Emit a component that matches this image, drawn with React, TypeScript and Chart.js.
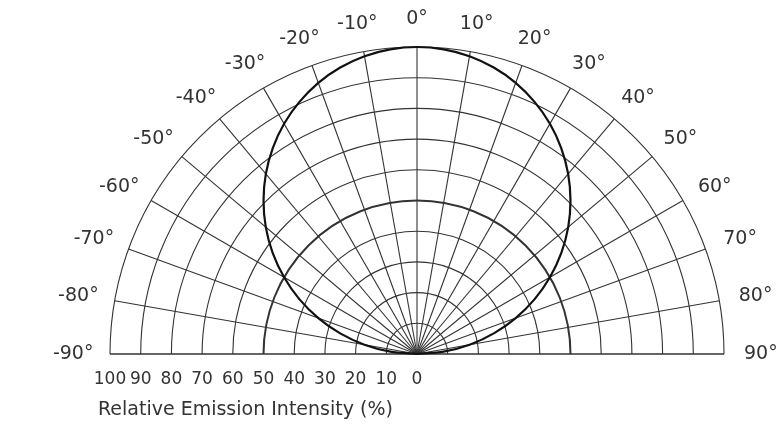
import React, { useEffect, useRef } from "react";
import { Chart, registerables } from "chart.js";

Chart.register(...registerables);

// Emission pattern: angle (deg) vs relative intensity (%)
const angles = [
  -90, -85, -80, -75, -70, -65, -60, -55, -50, -45, -40, -35, -30, -25, -20, -15, -10, -5, 0,
  5, 10, 15, 20, 25, 30, 35, 40, 45, 50, 55, 60, 65, 70, 75, 80, 85, 90,
];
const intensity = [
  0, 8.7, 17.4, 25.9, 34.2, 42.3, 50, 57.4, 64.3, 70.7, 76.6, 81.9, 86.6, 90.6, 94, 96.6, 98.5, 99.6, 100,
  99.6, 98.5, 96.6, 94, 90.6, 86.6, 81.9, 76.6, 70.7, 64.3, 57.4, 50, 42.3, 34.2, 25.9, 17.4, 8.7, 0,
];

// Polar grid
const rings = [10, 20, 30, 40, 50, 60, 70, 80, 90, 100];
const spokes = [-80, -70, -60, -50, -40, -30, -20, -10, 0, 10, 20, 30, 40, 50, 60, 70, 80];
const angleLabels = [-90, -80, -70, -60, -50, -40, -30, -20, -10, 0, 10, 20, 30, 40, 50, 60, 70, 80, 90];
const radialTicks = [100, 90, 80, 70, 60, 50, 40, 30, 20, 10, 0];
const axisTitle = "Relative Emission Intensity (%)";

const FONT = '"DejaVu Sans", sans-serif';
const INK = "#333";

const polarGrid = {
  id: "polarGrid",
  beforeDatasetsDraw(chart: any) {
    const { ctx, scales } = chart;
    const xs = scales.x;
    const ys = scales.y;
    const cx = xs.getPixelForValue(0);
    const cy = ys.getPixelForValue(0);
    const pr = (r: number) => xs.getPixelForValue(r) - cx;
    const rad = (d: number) => (d * Math.PI) / 180;
    ctx.save();
    ctx.strokeStyle = INK;
    rings.forEach((r) => {
      ctx.beginPath();
      ctx.lineWidth = r === 50 ? 2 : 1.1;
      ctx.arc(cx, cy, pr(r), Math.PI, 2 * Math.PI);
      ctx.stroke();
    });
    ctx.lineWidth = 1.1;
    spokes.forEach((a) => {
      const R = pr(100);
      ctx.beginPath();
      ctx.moveTo(cx, cy);
      ctx.lineTo(cx + R * Math.sin(rad(a)), cy - R * Math.cos(rad(a)));
      ctx.stroke();
    });
    ctx.lineWidth = 1.5;
    ctx.beginPath();
    ctx.moveTo(xs.getPixelForValue(-100), cy);
    ctx.lineTo(xs.getPixelForValue(100), cy);
    ctx.stroke();
    ctx.restore();
  },
  afterDraw(chart: any) {
    const { ctx, scales } = chart;
    const xs = scales.x;
    const ys = scales.y;
    const cx = xs.getPixelForValue(0);
    const cy = ys.getPixelForValue(0);
    const pr = (r: number) => xs.getPixelForValue(r) - cx;
    const rad = (d: number) => (d * Math.PI) / 180;
    ctx.save();
    ctx.fillStyle = INK;
    ctx.textAlign = "center";
    ctx.textBaseline = "middle";
    ctx.font = `19px ${FONT}`;
    const LRx = pr(112);
    const LRy = pr(109);
    angleLabels.forEach((a) => {
      const x = cx + LRx * Math.sin(rad(a));
      const y = cy - LRy * Math.cos(rad(a));
      ctx.fillText(`${a}°`, x, y);
    });
    ctx.font = `17px ${FONT}`;
    radialTicks.forEach((t) => {
      ctx.fillText(String(t), xs.getPixelForValue(-t), cy + 26);
    });
    ctx.textAlign = "left";
    ctx.font = `19px ${FONT}`;
    ctx.fillText(axisTitle, 98, cy + 56);
    ctx.restore();
  },
};

export default function App() {
  const ref = useRef<HTMLCanvasElement | null>(null);
  useEffect(() => {
    if (!ref.current) return;
    const points = angles.map((a, i) => ({
      x: intensity[i] * Math.sin((a * Math.PI) / 180),
      y: intensity[i] * Math.cos((a * Math.PI) / 180),
    }));
    const chart = new Chart(ref.current, {
      type: "scatter",
      data: {
        datasets: [
          {
            data: points,
            showLine: true,
            borderColor: "#111",
            borderWidth: 2.2,
            pointRadius: 0,
            tension: 0.3,
            clip: false as any,
          },
        ],
      },
      options: {
        animation: false,
        responsive: false,
        layout: { padding: { left: 110, right: 56, top: 47, bottom: 74 } },
        plugins: { legend: { display: false }, tooltip: { enabled: false } },
        scales: {
          x: { type: "linear", min: -100, max: 100, display: false },
          y: { type: "linear", min: 0, max: 100, display: false },
        },
      },
      plugins: [polarGrid],
    });
    return () => chart.destroy();
  }, []);
  return (
    <div style={{ position: "fixed", left: 0, top: 0, width: 780, height: 428, background: "#fff" }}>
      <canvas ref={ref} width={780} height={428} style={{ width: 780, height: 428 }} />
    </div>
  );
}
